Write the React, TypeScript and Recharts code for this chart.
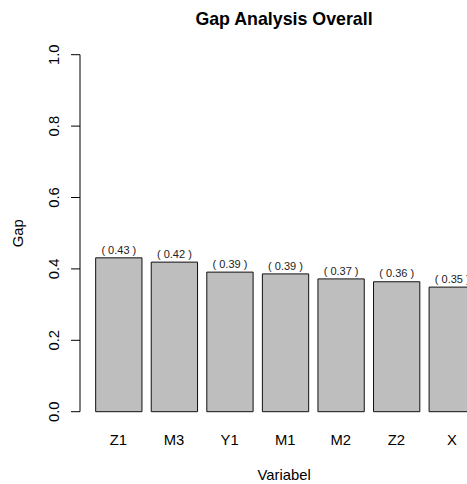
import React from 'react';
import { BarChart, Bar, XAxis, YAxis, LabelList } from 'recharts';

const categories = ['Z1', 'M3', 'Y1', 'M1', 'M2', 'Z2', 'X'];
const gapValues = [0.431, 0.419, 0.391, 0.386, 0.372, 0.364, 0.349];
const yTicks = [0, 0.2, 0.4, 0.6, 0.8, 1.0];

const data = categories.map((name, i) => ({ name, gap: gapValues[i] }));

const FONT = '"Liberation Sans", Arial, Helvetica, sans-serif';
const BASE = 14.8;

const YTick = (props: any) => {
  const { x, y, payload } = props;
  const bx = x - 12;
  return (
    <text
      x={bx}
      y={y}
      transform={`rotate(-90, ${bx}, ${y})`}
      textAnchor="middle"
      fontSize={BASE}
      fontFamily={FONT}
      fill="#000"
    >
      {Number(payload.value).toFixed(1)}
    </text>
  );
};

const XTick = (props: any) => {
  const { x, y, payload } = props;
  return (
    <text x={x} y={y + 33.3} textAnchor="middle" fontSize={BASE} fontFamily={FONT} fill="#000">
      {payload.value}
    </text>
  );
};

const ValueLabel = (props: any) => {
  const { x, y, width, value } = props;
  return (
    <text
      x={Number(x) + Number(width) / 2}
      y={Number(y) - 4.3}
      textAnchor="middle"
      fontSize={11}
      fontFamily={FONT}
      fill="#222"
    >
      {`( ${Number(value).toFixed(2)} )`}
    </text>
  );
};

const XLabel = (props: any) => {
  const vb = props.viewBox || {};
  const cx = vb.x + vb.width / 2;
  return (
    <text x={cx} y={vb.y + 68.5} textAnchor="middle" fontSize={BASE} fontFamily={FONT} fill="#000">
      Variabel
    </text>
  );
};

const YLabel = (props: any) => {
  const vb = props.viewBox || {};
  const bx = vb.x + 23;
  const cy = vb.y + vb.height / 2;
  return (
    <text
      x={bx}
      y={cy}
      transform={`rotate(-90, ${bx}, ${cy})`}
      textAnchor="middle"
      fontSize={BASE}
      fontFamily={FONT}
      fill="#000"
    >
      Gap
    </text>
  );
};

export default function App() {
  return (
    <div
      style={{
        position: 'absolute',
        left: 0,
        top: 0,
        width: 467,
        height: 484,
        overflow: 'hidden',
        background: '#fff',
      }}
    >
      <BarChart
        width={489}
        height={484}
        data={data}
        margin={{ top: 54.7, right: 0.7, bottom: 0, left: 0 }}
      >
        <XAxis
          dataKey="name"
          axisLine={false}
          tickLine={false}
          tickSize={0}
          tickMargin={0}
          height={72.3}
          padding={{ left: 10.67, right: 8.64 }}
          tick={<XTick />}
          interval={0}
          label={<XLabel />}
        />
        <YAxis
          domain={[0, 1]}
          ticks={yTicks}
          width={80}
          tickSize={9}
          tickMargin={0}
          axisLine={{ stroke: '#000' }}
          tickLine={{ stroke: '#000' }}
          tick={<YTick />}
          interval={0}
          label={<YLabel />}
        />
        <Bar
          dataKey="gap"
          fill="#BEBEBE"
          stroke="#111"
          strokeWidth={1}
          barSize={46.3}
          isAnimationActive={false}
        >
          <LabelList dataKey="gap" content={<ValueLabel />} />
        </Bar>
      </BarChart>
      <svg
        width={467}
        height={40}
        style={{ position: 'absolute', left: 0, top: 0 }}
      >
        <text
          x={284}
          y={25}
          textAnchor="middle"
          fontSize={17.8}
          fontWeight="bold"
          fontFamily={FONT}
          fill="#000"
        >
          Gap Analysis Overall
        </text>
      </svg>
    </div>
  );
}
